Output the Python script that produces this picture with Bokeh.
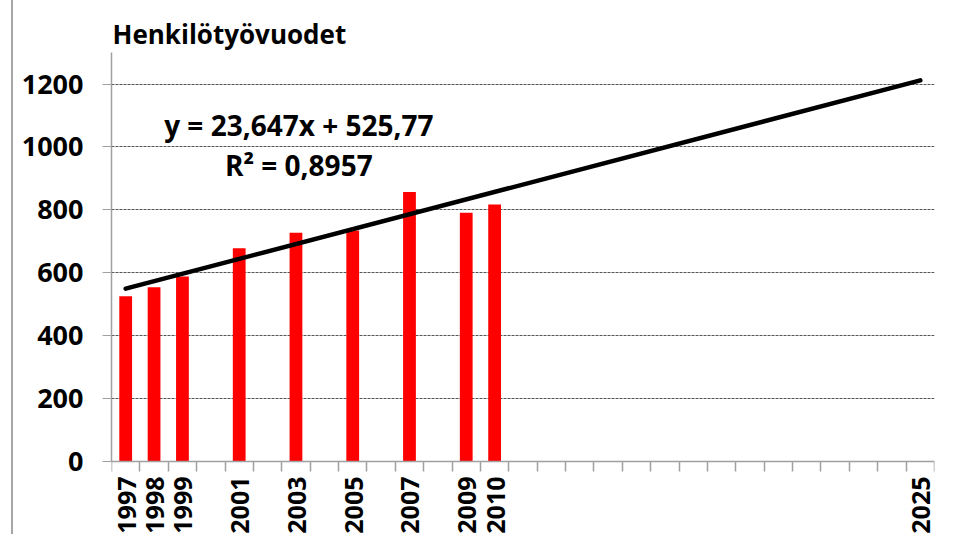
import math
from bokeh.plotting import figure
from bokeh.models import Range1d, FixedTicker, Label, LabelSet, ColumnDataSource
from bokeh.core.properties import value
from bokeh.embed import file_html
from bokeh.resources import INLINE

# ---- data ----
years = [1997, 1998, 1999, 2001, 2003, 2005, 2007, 2009, 2010]
values = [525, 554, 588, 678, 727, 734, 857, 791, 817]
first_year = 1997
last_year = 2025
label_years = [1997, 1998, 1999, 2001, 2003, 2005, 2007, 2009, 2010, 2025]
label_texts = [str(y) for y in label_years]
y_ticks = [0, 200, 400, 600, 800, 1000, 1200]
slope = 23.647
intercept = 525.77
equation_text = "y = 23,647x + 525,77"
r2_text = "R\u00b2 = 0,8957"
title_text = "Henkilötyövuodet"

FONT = "Open Sans"
Y_AXIS_MAX = 1300
# visible window (frame spans the whole figure height so that title and
# category labels, drawn as annotations, are not clipped)
VIEW_BOTTOM = -232
VIEW_TOP = 1465.5

trend_x = [first_year, last_year]
trend_y = [slope * (yr - first_year + 1) + intercept for yr in trend_x]

p = figure(
    width=926, height=534,
    x_range=Range1d(first_year - 0.5, last_year + 0.5),
    y_range=Range1d(VIEW_BOTTOM, VIEW_TOP),
    output_backend="svg", toolbar_location=None,
    min_border_left=98, min_border_right=5, min_border_top=0, min_border_bottom=0,
)
p.styles = {"margin-left": "11px", "border-left": "2px solid #a6a6a6"}

p.outline_line_color = None
p.background_fill_color = "white"

# bars
p.vbar(x=years, top=values, width=0.45, bottom=0, fill_color="#ff0000", line_color=None)

# trend line
p.line(trend_x, trend_y, line_color="black", line_width=4.5, line_cap="round")

# grid
p.xgrid.visible = False
p.ygrid.ticker = FixedTicker(ticks=y_ticks[1:])
p.ygrid.grid_line_color = "#555555"
p.ygrid.grid_line_dash = "3 1"
p.ygrid.grid_line_width = 1

# y axis
ya = p.yaxis[0]
ya.ticker = FixedTicker(ticks=y_ticks)
ya.bounds = (0, Y_AXIS_MAX)
ya.axis_line_color = "#a0a0a0"
ya.axis_line_width = 1.5
ya.major_tick_line_color = "#a0a0a0"
ya.major_tick_out = 9
ya.major_tick_in = 0
ya.minor_tick_line_color = None
ya.major_label_text_font = FONT
ya.major_label_text_font_size = "27px"
ya.major_label_text_font_style = "bold"
ya.major_label_text_color = "black"
ya.major_label_standoff = 19

# x axis at y = 0: line + boundary ticks; labels drawn as a LabelSet below
xa = p.xaxis[0]
xa.fixed_location = 0
boundaries = [first_year - 0.5 + i for i in range(last_year - first_year + 2)]
xa.ticker = FixedTicker(ticks=[], minor_ticks=boundaries)
xa.axis_line_color = "#a0a0a0"
xa.axis_line_width = 1.5
xa.major_tick_out = 0
xa.major_tick_in = 0
xa.minor_tick_line_color = "#a0a0a0"
xa.minor_tick_line_width = 1.5
xa.minor_tick_out = 10
xa.minor_tick_in = 0
xa.major_label_text_font = FONT
xa.major_label_text_font_size = "0px"
xa.major_label_standoff = 0

label_src = ColumnDataSource(dict(x=label_years, y=[0] * len(label_years), text=label_texts))
p.add_layout(LabelSet(x="x", y="y", text="text", source=label_src, angle=math.pi / 2,
                      y_offset=-15, x_offset=1,
                      text_align="right", text_baseline="middle",
                      text_font=value(FONT), text_font_size=value("25px"),
                      text_font_style=value("bold"), text_color=value("black")))

# title
p.add_layout(Label(x=first_year - 0.5, y=1359.4, x_offset=1, text=title_text,
                   text_align="left", text_baseline="alphabetic",
                   text_font=FONT, text_font_size="26px", text_font_style="bold",
                   text_color="black"))

# equation labels
p.add_layout(Label(x=2003.1, y=1069.6, text=equation_text, text_align="center",
                   text_baseline="middle", text_font=FONT, text_font_size="28px",
                   text_font_style="bold", text_color="black"))
p.add_layout(Label(x=2003.1, y=944, text=r2_text, text_align="center",
                   text_baseline="middle", text_font=FONT, text_font_size="28px",
                   text_font_style="bold", text_color="black"))

open("out.html", "w").write(file_html(p, INLINE))
